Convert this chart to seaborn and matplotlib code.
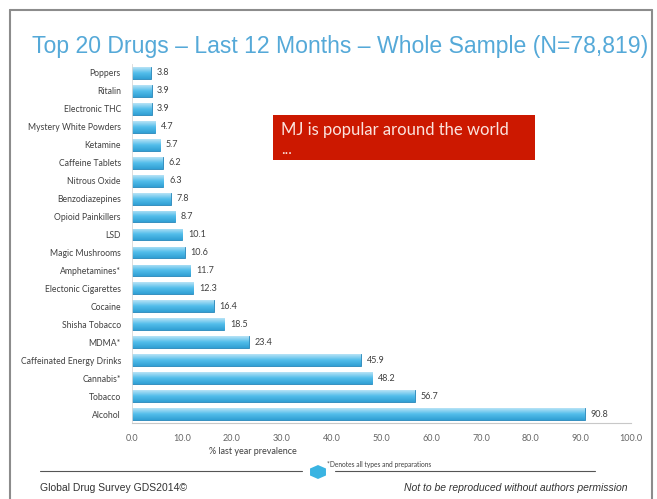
import matplotlib
matplotlib.use("Agg")
import matplotlib.pyplot as plt
from matplotlib.patches import Rectangle, RegularPolygon
from matplotlib.lines import Line2D
import numpy as np
import pandas as pd
import seaborn as sns

# ---------------------------------------------------------------------
# Data (top to bottom as shown on the slide)
# ---------------------------------------------------------------------
drugs = [
    "Poppers", "Ritalin", "Electronic THC", "Mystery White Powders",
    "Ketamine", "Caffeine Tablets", "Nitrous Oxide", "Benzodiazepines",
    "Opioid Painkillers", "LSD", "Magic Mushrooms", "Amphetamines*",
    "Electonic Cigarettes", "Cocaine", "Shisha Tobacco", "MDMA*",
    "Caffeinated Energy Drinks", "Cannabis*", "Tobacco", "Alcohol",
]
prevalence = [
    3.8, 3.9, 3.9, 4.7, 5.7, 6.2, 6.3, 7.8, 8.7, 10.1,
    10.6, 11.7, 12.3, 16.4, 18.5, 23.4, 45.9, 48.2, 56.7, 90.8,
]
x_ticks = [0, 10, 20, 30, 40, 50, 60, 70, 80, 90, 100]

df = pd.DataFrame({"drug": drugs, "prevalence": prevalence})

sns.set_style("white")
plt.rcParams["font.family"] = ["Lato", "DejaVu Sans"]

fig = plt.figure(figsize=(6.57, 4.99), dpi=100)
fig.patch.set_facecolor("white")
ax = fig.add_axes([0.201, 0.152, 0.759, 0.720])

sns.barplot(data=df, x="prevalence", y="drug", order=drugs, orient="h",
            color="#45b4e4", saturation=1, width=0.66,
            edgecolor="#2585b8", linewidth=0.6, ax=ax)

# light-to-dark vertical gradient on every bar
grad = np.linspace(0, 1, 64).reshape(-1, 1)
cmap = matplotlib.colors.LinearSegmentedColormap.from_list(
    "bar", ["#b8e3f6", "#52bdea", "#319fd4"])
for p in ax.patches:
    x0, y0 = p.get_x(), p.get_y()
    w, h = p.get_width(), p.get_height()
    im = ax.imshow(grad, cmap=cmap, aspect="auto",
                   extent=[x0, x0 + w, y0 + h, y0], zorder=p.get_zorder() + 0.1)
    im.set_clip_path(p)

ax.bar_label(ax.containers[0], fmt="%.1f", padding=4, fontsize=6.5,
             color="#404040")

ax.set_xlim(0, 100)
ax.set_ylim(len(drugs) - 0.5, -0.5)
ax.set_xticks(x_ticks)
ax.set_xticklabels([f"{t:.1f}" for t in x_ticks], fontsize=6.5, color="#666666")
ax.tick_params(axis="y", labelsize=6.2, labelcolor="#404040", length=0, pad=8)
ax.tick_params(axis="x", length=0, pad=8)
ax.set_xlabel("")
ax.set_ylabel("")
for s in ["top", "right"]:
    ax.spines[s].set_visible(False)
ax.spines["left"].set_color("#d8d8d8")
ax.spines["left"].set_linewidth(0.6)
ax.spines["bottom"].set_color("#c8c8c8")
ax.spines["bottom"].set_linewidth(0.8)

fig.text(253 / 657, 1 - 451 / 499, "% last year prevalence", fontsize=6.5,
         color="#404040", ha="center", va="center")

# title
fig.text(340 / 657, 1 - 46 / 499,
         "Top 20 Drugs \u2013 Last 12 Months \u2013 Whole Sample (N=78,819)",
         fontsize=16.6, color="#55a9d8", ha="center", va="center",
         family=["Liberation Sans", "DejaVu Sans"])

# red call-out box
fig.patches.append(Rectangle((273 / 657, 1 - 160 / 499), 262 / 657, 45 / 499,
                             transform=fig.transFigure, facecolor="#cc1800",
                             edgecolor="none"))
fig.text(281 / 657, 1 - 130 / 499, "MJ is popular around the world",
         fontsize=12, color="#fbe3de", ha="left", va="center")
fig.text(281 / 657, 1 - 150 / 499, "...", fontsize=11, color="#fbe3de",
         ha="left", va="center")

# footer
fig.lines.append(Line2D([40 / 657, 302 / 657], [1 - 471 / 499, 1 - 471 / 499],
                        transform=fig.transFigure, color="#555555", lw=0.8))
fig.lines.append(Line2D([335 / 657, 595 / 657], [1 - 471 / 499, 1 - 471 / 499],
                        transform=fig.transFigure, color="#555555", lw=0.8))
fig.patches.append(RegularPolygon((318 / 657, 1 - 472 / 499), 6, radius=0.014,
                                  transform=fig.transFigure,
                                  facecolor="#3ab4e2", edgecolor="none"))
fig.text(327 / 657, 1 - 465 / 499, "*Denotes all types and preparations",
         fontsize=4.8, color="#404040", ha="left", va="center")
fig.text(40 / 657, 1 - 488 / 499, "Global Drug Survey GDS2014\u00a9",
         fontsize=7.5, color="#333333", ha="left", va="center",
         family=["Liberation Sans", "DejaVu Sans"])
fig.text(627 / 657, 1 - 488 / 499,
         "Not to be reproduced without authors permission",
         fontsize=7.5, color="#333333", ha="right", va="center", style="italic",
         family=["Liberation Sans", "DejaVu Sans"])

# slide frame
frame_kw = dict(transform=fig.transFigure, color="#8c8c8c", lw=1.5)
fig.lines.append(Line2D([10 / 657, 10 / 657], [0, 1 - 10 / 499], **frame_kw))
fig.lines.append(Line2D([10 / 657, 652 / 657], [1 - 10 / 499, 1 - 10 / 499], **frame_kw))
fig.lines.append(Line2D([652 / 657, 652 / 657], [0, 1 - 10 / 499], **frame_kw))

fig.savefig("out.png", dpi=100, facecolor="white")
